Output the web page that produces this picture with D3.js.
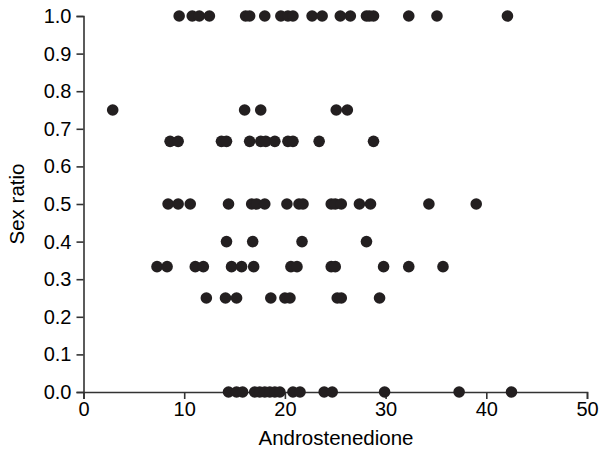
<!DOCTYPE html>
<html>
<meta charset="utf-8">
<script src="https://d3js.org/d3.v7.min.js"></script>
<style>
  body { margin: 0; background: #fff; }
  .axis text { font-family: "Liberation Sans", Arial, sans-serif; font-size: 20px; fill: #000; }
  .axis path, .axis line { stroke: #333; stroke-width: 1.6px; }
  .label { font-family: "Liberation Sans", Arial, sans-serif; font-size: 20.5px; fill: #000; }
</style>
<body>
<div id="vis"></div>
<script>
// androstenedione values
const row100 = [9.5, 10.8, 11.5, 12.5, 16.1, 16.5, 18.0, 19.6, 20.3, 20.8, 22.7, 23.7, 25.5, 26.5, 28.1, 28.4, 28.8, 32.3, 35.1, 42.1];
const row075 = [2.9, 16.0, 17.6, 25.1, 26.2];
const row067 = [8.6, 9.4, 13.7, 14.2, 16.5, 17.6, 18.1, 19.0, 20.3, 20.8, 23.4, 28.8];
const row050 = [8.4, 9.4, 10.6, 14.4, 16.7, 17.2, 18.0, 20.2, 21.4, 21.8, 24.6, 25.0, 25.6, 27.4, 28.5, 34.3, 39.0];
const row040 = [14.2, 16.8, 21.7, 28.1];
const row033 = [7.3, 8.3, 11.1, 11.9, 14.7, 15.7, 16.9, 20.6, 21.2, 24.6, 25.0, 29.8, 32.3, 35.7];
const row025 = [12.2, 14.1, 15.2, 18.6, 20.0, 20.5, 25.2, 25.6, 29.4];
const row000 = [14.4, 15.2, 15.8, 17.0, 17.5, 18.0, 18.5, 19.0, 19.5, 20.8, 21.5, 23.9, 24.7, 29.9, 37.3, 42.5];

const rows = [
  [1.0, row100], [0.75, row075], [2/3, row067], [0.5, row050],
  [0.4, row040], [1/3, row033], [0.25, row025], [0.0, row000]
];
const points = [];
rows.forEach(r => r[1].forEach(v => points.push({x: v, y: r[0]})));

const xTicks = [0, 10, 20, 30, 40, 50];
const yTicks = [0, 0.1, 0.2, 0.3, 0.4, 0.5, 0.6, 0.7, 0.8, 0.9, 1.0];

const svg = d3.select("#vis").append("svg")
  .attr("width", 599)
  .attr("height", 450);

const x = d3.scaleLinear().domain([0, 50]).range([83.5, 587]);
const y = d3.scaleLinear().domain([0, 1]).range([392, 16]);

// axes
svg.append("g")
  .attr("class", "axis")
  .attr("transform", "translate(0,392)")
  .call(d3.axisBottom(x).tickValues(xTicks).tickSizeOuter(0).tickSize(7).tickPadding(3).tickFormat(d3.format("d")));

svg.append("g")
  .attr("class", "axis")
  .attr("transform", "translate(83.5,0)")
  .call(d3.axisLeft(y).tickValues(yTicks).tickSizeOuter(0).tickSize(7).tickPadding(5).tickFormat(d3.format(".1f")));

// dots
svg.append("g")
  .selectAll("circle")
  .data(points)
  .join("circle")
    .attr("cx", d => x(d.x))
    .attr("cy", d => y(d.y))
    .attr("r", 5.8)
    .style("fill", "#231f20");

// axis labels
svg.append("text")
  .attr("class", "label")
  .attr("x", 336)
  .attr("y", 445)
  .attr("text-anchor", "middle")
  .text("Androstenedione");

svg.append("text")
  .attr("class", "label")
  .attr("transform", "translate(24,204) rotate(-90)")
  .attr("text-anchor", "middle")
  .text("Sex ratio");
</script>
</body>
</html>
